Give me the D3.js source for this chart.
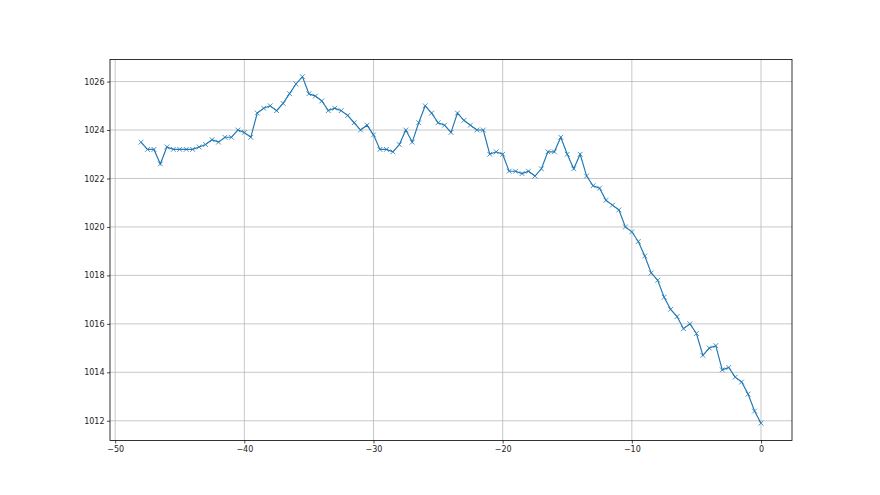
<!DOCTYPE html>
<html>
<head>
<meta charset="utf-8">
<script src="https://cdn.jsdelivr.net/npm/d3@7"></script>
<style>
  body { margin: 0; background: #fff; }
  svg { display: block; }
  .tick text { font-family: "DejaVu Sans", sans-serif; font-size: 8px; fill: #222; }
</style>
</head>
<body>
<svg width="880" height="495"></svg>
<script>
const hours = [
  -48, -47.5, -47, -46.5, -46, -45.5, -45, -44.5, -44, -43.5,
  -43, -42.5, -42, -41.5, -41, -40.5, -40, -39.5, -39, -38.5,
  -38, -37.5, -37, -36.5, -36, -35.5, -35, -34.5, -34, -33.5,
  -33, -32.5, -32, -31.5, -31, -30.5, -30, -29.5, -29, -28.5,
  -28, -27.5, -27, -26.5, -26, -25.5, -25, -24.5, -24, -23.5,
  -23, -22.5, -22, -21.5, -21, -20.5, -20, -19.5, -19, -18.5,
  -18, -17.5, -17, -16.5, -16, -15.5, -15, -14.5, -14, -13.5,
  -13, -12.5, -12, -11.5, -11, -10.5, -10, -9.5, -9, -8.5,
  -8, -7.5, -7, -6.5, -6, -5.5, -5, -4.5, -4, -3.5,
  -3, -2.5, -2, -1.5, -1, -0.5, 0
];
const pressure = [
  1023.5, 1023.2, 1023.2, 1022.6, 1023.3, 1023.2, 1023.2, 1023.2, 1023.2, 1023.3,
  1023.4, 1023.6, 1023.5, 1023.7, 1023.7, 1024.0, 1023.9, 1023.7, 1024.7, 1024.9,
  1025.0, 1024.8, 1025.1, 1025.5, 1025.9, 1026.2, 1025.5, 1025.4, 1025.2, 1024.8,
  1024.9, 1024.8, 1024.6, 1024.3, 1024.0, 1024.2, 1023.8, 1023.2, 1023.2, 1023.1,
  1023.4, 1024.0, 1023.5, 1024.3, 1025.0, 1024.7, 1024.3, 1024.2, 1023.9, 1024.7,
  1024.4, 1024.2, 1024.0, 1024.0, 1023.0, 1023.1, 1023.0, 1022.3, 1022.3, 1022.2,
  1022.3, 1022.1, 1022.4, 1023.1, 1023.1, 1023.7, 1023.0, 1022.4, 1023.0, 1022.1,
  1021.7, 1021.6, 1021.1, 1020.9, 1020.7, 1020.0, 1019.8, 1019.4, 1018.8, 1018.1,
  1017.8, 1017.1, 1016.6, 1016.3, 1015.8, 1016.0, 1015.6, 1014.7, 1015.0, 1015.1,
  1014.1, 1014.2, 1013.8, 1013.6, 1013.1, 1012.4, 1011.9
];
const xTicks = [-50, -40, -30, -20, -10, 0];
const yTicks = [1012, 1014, 1016, 1018, 1020, 1022, 1024, 1026];

const data = hours.map((h, i) => ({ h, p: pressure[i] }));

const plotLeft = 110, plotRight = 792, plotTop = 59.4, plotBottom = 440.5;

// matplotlib-like 5% margins
const xExt = d3.extent(hours), yExt = d3.extent(pressure);
const xPad = (xExt[1] - xExt[0]) * 0.05, yPad = (yExt[1] - yExt[0]) * 0.05;

const xScale = d3.scaleLinear().domain([xExt[0] - xPad, xExt[1] + xPad]).range([plotLeft, plotRight]);
const yScale = d3.scaleLinear().domain([yExt[0] - yPad, yExt[1] + yPad]).range([plotBottom, plotTop]);

const svg = d3.select('svg');

// grid
svg.append('g')
  .selectAll('line')
  .data(xTicks)
  .enter()
  .append('line')
  .attr('x1', d => xScale(d)).attr('x2', d => xScale(d))
  .attr('y1', plotTop).attr('y2', plotBottom)
  .attr('stroke', '#b0b0b0').attr('stroke-width', 0.7);
svg.append('g')
  .selectAll('line')
  .data(yTicks)
  .enter()
  .append('line')
  .attr('y1', d => yScale(d)).attr('y2', d => yScale(d))
  .attr('x1', plotLeft).attr('x2', plotRight)
  .attr('stroke', '#b0b0b0').attr('stroke-width', 0.7);

// axes
const xAxis = svg.append('g')
  .attr('transform', `translate(0,${plotBottom})`)
  .call(d3.axisBottom(xScale).tickValues(xTicks).tickSize(3).tickPadding(2.5).tickFormat(d => d < 0 ? '\u2212' + Math.abs(d) : d));
const yAxis = svg.append('g')
  .attr('transform', `translate(${plotLeft},0)`)
  .call(d3.axisLeft(yScale).tickValues(yTicks).tickSize(3).tickPadding(2.5).tickFormat(d3.format('d')));
[xAxis, yAxis].forEach(a => {
  a.select('.domain').remove();
  a.selectAll('.tick line').attr('stroke', '#000').attr('stroke-width', 0.7);
});

// frame
svg.append('rect')
  .attr('x', plotLeft).attr('y', plotTop)
  .attr('width', plotRight - plotLeft).attr('height', plotBottom - plotTop)
  .attr('fill', 'none').attr('stroke', '#000').attr('stroke-width', 0.8);

// line
const line = d3.line().x(d => xScale(d.h)).y(d => yScale(d.p));
svg.append('path')
  .datum(data)
  .attr('d', line)
  .attr('fill', 'none')
  .attr('stroke', '#1f77b4')
  .attr('stroke-width', 1.15);

// x markers
const m = 2.4;
svg.append('g')
  .selectAll('path')
  .data(data)
  .enter()
  .append('path')
  .attr('d', d => {
    const x = xScale(d.h), y = yScale(d.p);
    return `M${x - m},${y - m}L${x + m},${y + m}M${x - m},${y + m}L${x + m},${y - m}`;
  })
  .attr('stroke', '#1f77b4')
  .attr('stroke-width', 0.8)
  .attr('fill', 'none');
</script>
</body>
</html>
